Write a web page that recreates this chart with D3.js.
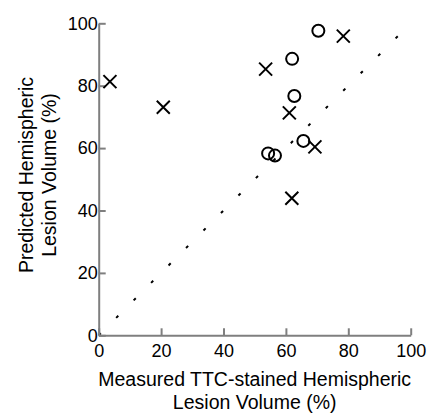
<!doctype html>
<html lang="en">
  <head>
    <meta charset="UTF-8" />
    <title>Predicted vs Measured Lesion Volume</title>
    <style>
      body {
        margin: 0;
        background: #fff;
        font-family: "Liberation Sans", Arial, sans-serif;
      }
      svg {
        display: block;
      }
    </style>
  </head>
  <body>
    <svg id="chart" width="430" height="414"></svg>

    <script src="https://d3js.org/d3.v7.min.js"></script>
    <script>
      // measured vs predicted, two groups
      const crossX = [3.6, 20.7, 53.5, 61.1, 61.9, 69.3, 78.4];
      const crossY = [81.3, 73.1, 85.3, 71.3, 43.9, 60.4, 95.9];
      const circleX = [54.3, 56.5, 62.0, 62.7, 65.6, 70.4];
      const circleY = [58.3, 57.6, 88.6, 76.7, 62.3, 97.6];
      const ticks = [0, 20, 40, 60, 80, 100];
      const identity = [0, 96];

      const svg = d3.select("#chart");
      const margin = { left: 98.7, right: 19.3, top: 23.3, bottom: 78.7 };
      const width = 430, height = 414;

      const x = d3.scaleLinear().domain([0, 100])
        .range([margin.left, width - margin.right]);
      const y = d3.scaleLinear().domain([0, 100])
        .range([height - margin.bottom, margin.top]);

      // dotted identity line
      svg.append("line")
        .attr("x1", x(identity[0])).attr("y1", y(identity[0]))
        .attr("x2", x(identity[1])).attr("y2", y(identity[1]))
        .attr("stroke", "#000")
        .attr("stroke-width", 2)
        .attr("stroke-dasharray", "3,21.7");

      const axisColor = "#7f7f7f";

      const xAxis = svg.append("g")
        .attr("transform", `translate(0,${y(0)})`)
        .call(d3.axisBottom(x).tickValues(ticks).tickSizeInner(-7).tickSizeOuter(0).tickPadding(8.5));
      const yAxis = svg.append("g")
        .attr("transform", `translate(${x(0)},0)`)
        .call(d3.axisLeft(y).tickValues(ticks).tickSizeInner(-7).tickSizeOuter(0).tickPadding(1));

      [xAxis, yAxis].forEach((g) => {
        g.select(".domain").attr("stroke", axisColor).attr("stroke-width", 2);
        g.selectAll(".tick line").attr("stroke", axisColor).attr("stroke-width", 2);
        g.selectAll(".tick text")
          .attr("fill", "#000")
          .attr("font-size", 18)
          .attr("font-family", "Liberation Sans, Arial, sans-serif");
      });
      yAxis.selectAll(".tick text").attr("x", -1);

      // circles
      svg.append("g")
        .selectAll("circle")
        .data(circleX.map((v, i) => [v, circleY[i]]))
        .join("circle")
        .attr("cx", (d) => x(d[0]))
        .attr("cy", (d) => y(d[1]))
        .attr("r", 6)
        .attr("fill", "none")
        .attr("stroke", "#000")
        .attr("stroke-width", 2);

      // crosses
      const s = 6.5;
      svg.append("g")
        .selectAll("path")
        .data(crossX.map((v, i) => [v, crossY[i]]))
        .join("path")
        .attr("d", (d) => {
          const cx = x(d[0]), cy = y(d[1]);
          return `M${cx - s},${cy - s}L${cx + s},${cy + s}M${cx - s},${cy + s}L${cx + s},${cy - s}`;
        })
        .attr("stroke", "#000")
        .attr("stroke-width", 2);

      // axis titles
      const fs = 19.5;
      const cx = (x(0) + x(100)) / 2;
      svg.append("text")
        .attr("x", cx).attr("y", 386)
        .attr("text-anchor", "middle")
        .attr("font-size", fs)
        .text("Measured TTC-stained Hemispheric");
      svg.append("text")
        .attr("x", cx).attr("y", 409)
        .attr("text-anchor", "middle")
        .attr("font-size", fs)
        .text("Lesion Volume (%)");

      const ty = 175;
      svg.append("text")
        .attr("transform", `translate(33,${ty}) rotate(-90)`)
        .attr("text-anchor", "middle")
        .attr("font-size", fs)
        .text("Predicted Hemispheric");
      svg.append("text")
        .attr("transform", `translate(56,${ty}) rotate(-90)`)
        .attr("text-anchor", "middle")
        .attr("font-size", fs)
        .text("Lesion Volume (%)");
    </script>
  </body>
</html>
